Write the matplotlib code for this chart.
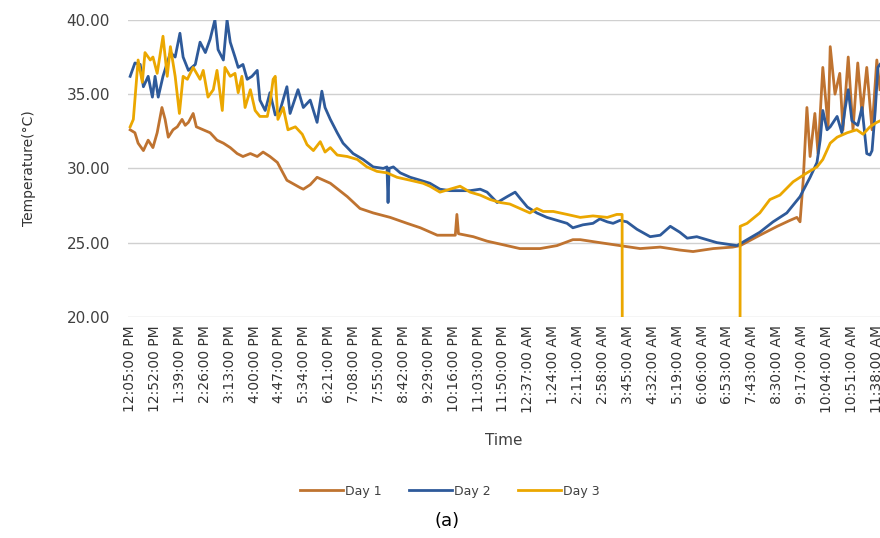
import matplotlib
matplotlib.use("Agg")
import matplotlib.pyplot as plt

# x tick labels, one every 47 readings (minutes since 12:05 PM)
tick_labels = ["12:05:00 PM", "12:52:00 PM", "1:39:00 PM", "2:26:00 PM", "3:13:00 PM",
               "4:00:00 PM", "4:47:00 PM", "5:34:00 PM", "6:21:00 PM", "7:08:00 PM",
               "7:55:00 PM", "8:42:00 PM", "9:29:00 PM", "10:16:00 PM", "11:03:00 PM",
               "11:50:00 PM", "12:37:00 AM", "1:24:00 AM", "2:11:00 AM", "2:58:00 AM",
               "3:45:00 AM", "4:32:00 AM", "5:19:00 AM", "6:06:00 AM", "6:53:00 AM",
               "7:43:00 AM", "8:30:00 AM", "9:17:00 AM", "10:04:00 AM", "10:51:00 AM",
               "11:38:00 AM"]
tick_step = 47

# Day 1 (reading index, temperature)
day1_idx = [0, 9, 15, 25, 34, 43, 51, 60, 66, 72, 81, 89, 98, 104, 110, 119, 125, 138,
            151, 164, 176, 189, 202, 213, 227, 240, 251, 264, 278, 296, 321, 327, 340,
            353, 378, 410, 434, 459, 491, 523, 548, 580, 604, 614, 617, 620, 648, 674,
            699, 736, 774, 806, 836, 850, 887, 925, 963, 1001, 1038, 1063, 1101, 1138,
            1152, 1189, 1222, 1246, 1259, 1265, 1271, 1278, 1284, 1293, 1299, 1308, 1318,
            1322, 1331, 1340, 1346, 1356, 1365, 1374, 1382, 1391, 1401, 1410, 1416]
day1_temp = [32.6, 32.4, 31.7, 31.2, 31.9, 31.4, 32.4, 34.1, 33.3, 32.1, 32.6, 32.8,
             33.3, 32.9, 33.1, 33.7, 32.8, 32.6, 32.4, 31.9, 31.7, 31.4, 31.0, 30.8,
             31.0, 30.8, 31.1, 30.8, 30.4, 29.2, 28.7, 28.6, 28.9, 29.4, 29.0, 28.1,
             27.3, 27.0, 26.7, 26.3, 26.0, 25.5, 25.5, 25.5, 26.9, 25.6, 25.4, 25.1,
             24.9, 24.6, 24.6, 24.8, 25.2, 25.2, 25.0, 24.8, 24.6, 24.7, 24.5, 24.4,
             24.6, 24.7, 24.8, 25.5, 26.1, 26.5, 26.7, 26.4, 29.2, 34.1, 30.8, 33.7,
             31.0, 36.8, 32.8, 38.2, 35.0, 36.4, 32.6, 37.5, 32.6, 37.1, 33.7, 36.8,
             32.6, 37.3, 35.3]

# Day 2
day2_idx = [0, 9, 19, 25, 34, 42, 47, 53, 62, 76, 85, 94, 100, 110, 123, 132, 142, 151,
            160, 166, 176, 183, 189, 198, 204, 213, 221, 230, 240, 245, 255, 264, 274,
            283, 296, 302, 317, 327, 340, 353, 362, 368, 378, 391, 402, 421, 440, 459,
            478, 485, 487, 489, 497, 510, 529, 548, 566, 585, 604, 623, 642, 661, 674,
            693, 712, 727, 736, 750, 768, 787, 806, 825, 836, 855, 874, 887, 901, 912,
            925, 938, 957, 982, 1001, 1020, 1038, 1052, 1070, 1089, 1108, 1127, 1146,
            1165, 1189, 1214, 1240, 1265, 1284, 1297, 1303, 1308, 1316, 1322, 1335,
            1344, 1350, 1356, 1363, 1374, 1382, 1391, 1397, 1401, 1407, 1412, 1416]
day2_temp = [36.2, 37.1, 37.0, 35.5, 36.2, 34.8, 36.2, 34.8, 36.2, 37.8, 37.5, 39.1,
             37.5, 36.6, 37.0, 38.5, 37.8, 38.7, 40.0, 38.0, 37.3, 40.0, 38.5, 37.5,
             36.8, 37.0, 36.0, 36.2, 36.6, 34.6, 33.9, 35.1, 33.6, 33.9, 35.5, 33.7,
             35.3, 34.1, 34.6, 33.1, 35.2, 34.1, 33.3, 32.4, 31.7, 31.0, 30.6, 30.1,
             30.0, 30.1, 27.7, 30.0, 30.1, 29.7, 29.4, 29.2, 29.0, 28.6, 28.5, 28.5,
             28.5, 28.6, 28.4, 27.7, 28.1, 28.4, 28.0, 27.4, 27.0, 26.7, 26.5, 26.3,
             26.0, 26.2, 26.3, 26.6, 26.4, 26.3, 26.5, 26.4, 25.9, 25.4, 25.5, 26.1,
             25.7, 25.3, 25.4, 25.2, 25.0, 24.9, 24.8, 25.2, 25.7, 26.4, 27.0, 28.1,
             29.4, 30.4, 31.9, 33.9, 32.6, 32.8, 33.5, 32.4, 34.0, 35.3, 33.2, 32.9,
             34.1, 31.0, 30.9, 31.2, 33.9, 36.8, 37.0]

# Day 3 (sensor reads 0 between ~3:40 AM and ~7:00 AM)
day3_idx = [0, 6, 15, 23, 28, 38, 43, 51, 62, 70, 76, 85, 93, 100, 108, 119, 132, 138,
            147, 157, 164, 174, 179, 189, 198, 204, 211, 217, 227, 236, 245, 259, 264,
            270, 274, 279, 289, 298, 312, 325, 334, 346, 359, 368, 378, 391, 410, 429,
            447, 466, 485, 504, 529, 553, 566, 585, 604, 623, 642, 661, 680, 699, 717,
            736, 755, 768, 780, 799, 825, 850, 874, 901, 919, 929, 930, 1151, 1152,
            1165, 1189, 1208, 1227, 1252, 1278, 1297, 1308, 1322, 1335, 1354, 1372,
            1384, 1397, 1410, 1416]
day3_temp = [32.8, 33.3, 37.3, 35.8, 37.8, 37.3, 37.5, 36.4, 38.9, 36.2, 38.2, 36.2,
             33.7, 36.2, 36.0, 36.8, 36.0, 36.6, 34.8, 35.3, 36.6, 33.9, 36.8, 36.2,
             36.4, 35.1, 36.2, 34.1, 35.3, 33.9, 33.5, 33.5, 34.4, 36.0, 36.2, 33.3,
             34.1, 32.6, 32.8, 32.3, 31.6, 31.2, 31.8, 31.1, 31.4, 30.9, 30.8, 30.6,
             30.1, 29.8, 29.7, 29.4, 29.2, 29.0, 28.8, 28.4, 28.6, 28.8, 28.4, 28.2,
             27.9, 27.7, 27.6, 27.3, 27.0, 27.3, 27.1, 27.1, 26.9, 26.7, 26.8, 26.7,
             26.9, 26.9, 0.0, 0.0, 26.1, 26.3, 27.0, 27.9, 28.2, 29.1, 29.7, 30.1,
             30.6, 31.7, 32.1, 32.4, 32.6, 32.3, 32.8, 33.1, 33.2]

fig = plt.figure(figsize=(8.8, 5.38), dpi=100)
ax = fig.add_axes([0.1455, 0.411, 0.8545, 0.552])

ax.plot(day1_idx, day1_temp, color="#BF7330", lw=2, label="Day 1")
ax.plot(day2_idx, day2_temp, color="#2E5A9A", lw=2, label="Day 2")
ax.plot(day3_idx, day3_temp, color="#EBA700", lw=2, label="Day 3")

ax.set_ylim(20, 40)
ax.set_yticks([20, 25, 30, 35, 40])
ax.set_yticklabels(["%.2f" % v for v in [20, 25, 30, 35, 40]])
ax.set_xlim(-4, 1416)
ax.set_xticks([i * tick_step for i in range(len(tick_labels))])
ax.set_xticklabels(tick_labels, rotation=90, va="top", ha="center")

ax.grid(axis="y", color="#D0D0D0", lw=1)
ax.set_axisbelow(True)
for s in ax.spines.values():
    s.set_visible(False)
ax.tick_params(axis="x", length=0, labelsize=10, colors="#333333", pad=6)
ax.tick_params(axis="y", length=0, labelsize=11, colors="#404040", pad=13)

ax.set_ylabel("Temperature(°C)", fontsize=10, color="#333333", labelpad=22)
ax.set_xlabel("Time", fontsize=11, color="#404040", labelpad=14)

fig.legend(loc="center", bbox_to_anchor=(450 / 880, 1 - 491 / 538), ncol=3,
           frameon=False, fontsize=9, handlelength=3.4, handletextpad=0.2,
           columnspacing=2.2, labelcolor="#404040")
fig.text(447 / 880, 1 - 521 / 538, "(a)", ha="center", va="center", fontsize=13)

fig.savefig("out.png", dpi=100)
